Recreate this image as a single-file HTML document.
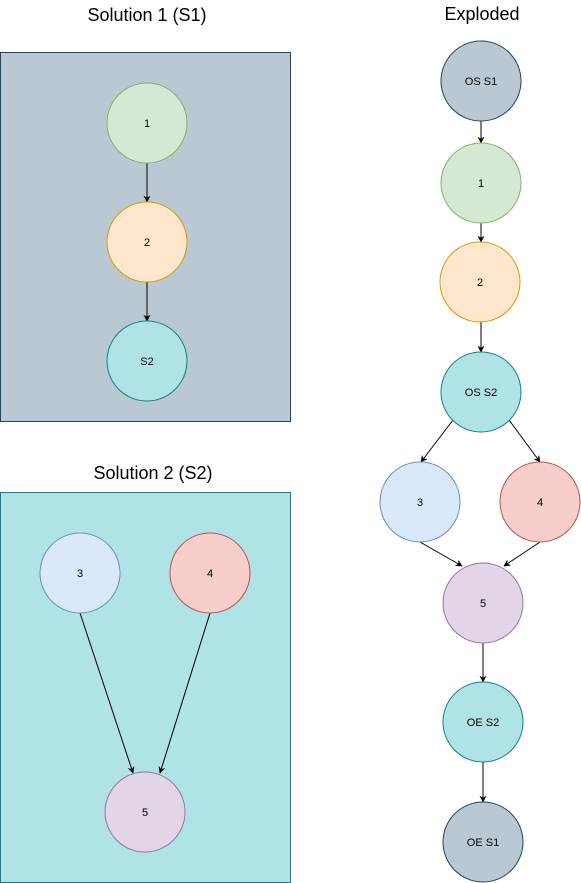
<!DOCTYPE html>
<html><head><meta charset="utf-8"><style>
html,body{margin:0;padding:0;background:#fff;}
svg{display:block;font-family:"Liberation Sans",Arial,sans-serif;}
</style></head><body>
<svg width="581" height="883" viewBox="0 0 581 883" xmlns="http://www.w3.org/2000/svg">
<defs>
<marker id="a" viewBox="0 0 10 10" refX="9" refY="5" markerWidth="7" markerHeight="7" orient="auto" markerUnits="userSpaceOnUse"><path d="M0,0 L10,5 L0,10 L3,5 z" fill="#000"/></marker>
</defs>
<text x="147" y="21" font-size="18" text-anchor="middle">Solution 1 (S1)</text>
<text x="153" y="479" font-size="18" text-anchor="middle">Solution 2 (S2)</text>
<text x="482" y="20" font-size="18" text-anchor="middle">Exploded</text>
<rect x="0.5" y="52.5" width="290" height="369" fill="#bac8d3" stroke="#23445d"/>
<rect x="0.5" y="492.5" width="290" height="390" fill="#b0e3e6" stroke="#0e8088"/>
<g stroke="#000" stroke-width="1" fill="none" marker-end="url(#a)">
<line x1="147" y1="163" x2="147" y2="202"/>
<line x1="147" y1="282" x2="147" y2="321"/>
<line x1="80" y1="613" x2="133" y2="773"/>
<line x1="210" y1="613" x2="160" y2="773"/>
<line x1="481" y1="121" x2="481" y2="143"/>
<line x1="481" y1="223" x2="481" y2="242"/>
<line x1="481" y1="322" x2="481" y2="352"/>
<line x1="453" y1="420" x2="421" y2="462"/>
<line x1="509" y1="420" x2="540" y2="462"/>
<line x1="420" y1="542" x2="462" y2="566"/>
<line x1="540" y1="542" x2="504" y2="566"/>
<line x1="483" y1="643" x2="483" y2="682"/>
<line x1="483" y1="762" x2="483" y2="802"/>
</g>
<g font-size="11" text-anchor="middle">
<circle cx="147" cy="123" r="40" fill="#d5e8d4" stroke="#82b366"/><text x="147" y="127">1</text>
<circle cx="147" cy="242" r="40" fill="#ffe6cc" stroke="#d79b00"/><text x="147" y="246">2</text>
<circle cx="147" cy="361" r="40" fill="#b0e3e6" stroke="#0e8088"/><text x="147" y="365">S2</text>
<circle cx="80" cy="573" r="40" fill="#dae8fc" stroke="#6c8ebf"/><text x="80" y="577">3</text>
<circle cx="210" cy="573" r="40" fill="#f8cecc" stroke="#b85450"/><text x="210" y="577">4</text>
<circle cx="145" cy="812" r="40" fill="#e1d5e7" stroke="#9673a6"/><text x="145" y="816">5</text>
<circle cx="481" cy="81" r="40" fill="#bac8d3" stroke="#23445d"/><text x="481" y="85">OS S1</text>
<circle cx="481" cy="183" r="40" fill="#d5e8d4" stroke="#82b366"/><text x="481" y="187">1</text>
<circle cx="480" cy="282" r="40" fill="#ffe6cc" stroke="#d79b00"/><text x="480" y="286">2</text>
<circle cx="481" cy="392" r="40" fill="#b0e3e6" stroke="#0e8088"/><text x="481" y="396">OS S2</text>
<circle cx="420" cy="502" r="40" fill="#dae8fc" stroke="#6c8ebf"/><text x="420" y="506">3</text>
<circle cx="540" cy="502" r="40" fill="#f8cecc" stroke="#b85450"/><text x="540" y="506">4</text>
<circle cx="483" cy="603" r="40" fill="#e1d5e7" stroke="#9673a6"/><text x="483" y="607">5</text>
<circle cx="483" cy="722" r="40" fill="#b0e3e6" stroke="#0e8088"/><text x="483" y="726">OE S2</text>
<circle cx="483" cy="842" r="40" fill="#bac8d3" stroke="#23445d"/><text x="483" y="846">OE S1</text>
</g>
</svg>
</body></html>
